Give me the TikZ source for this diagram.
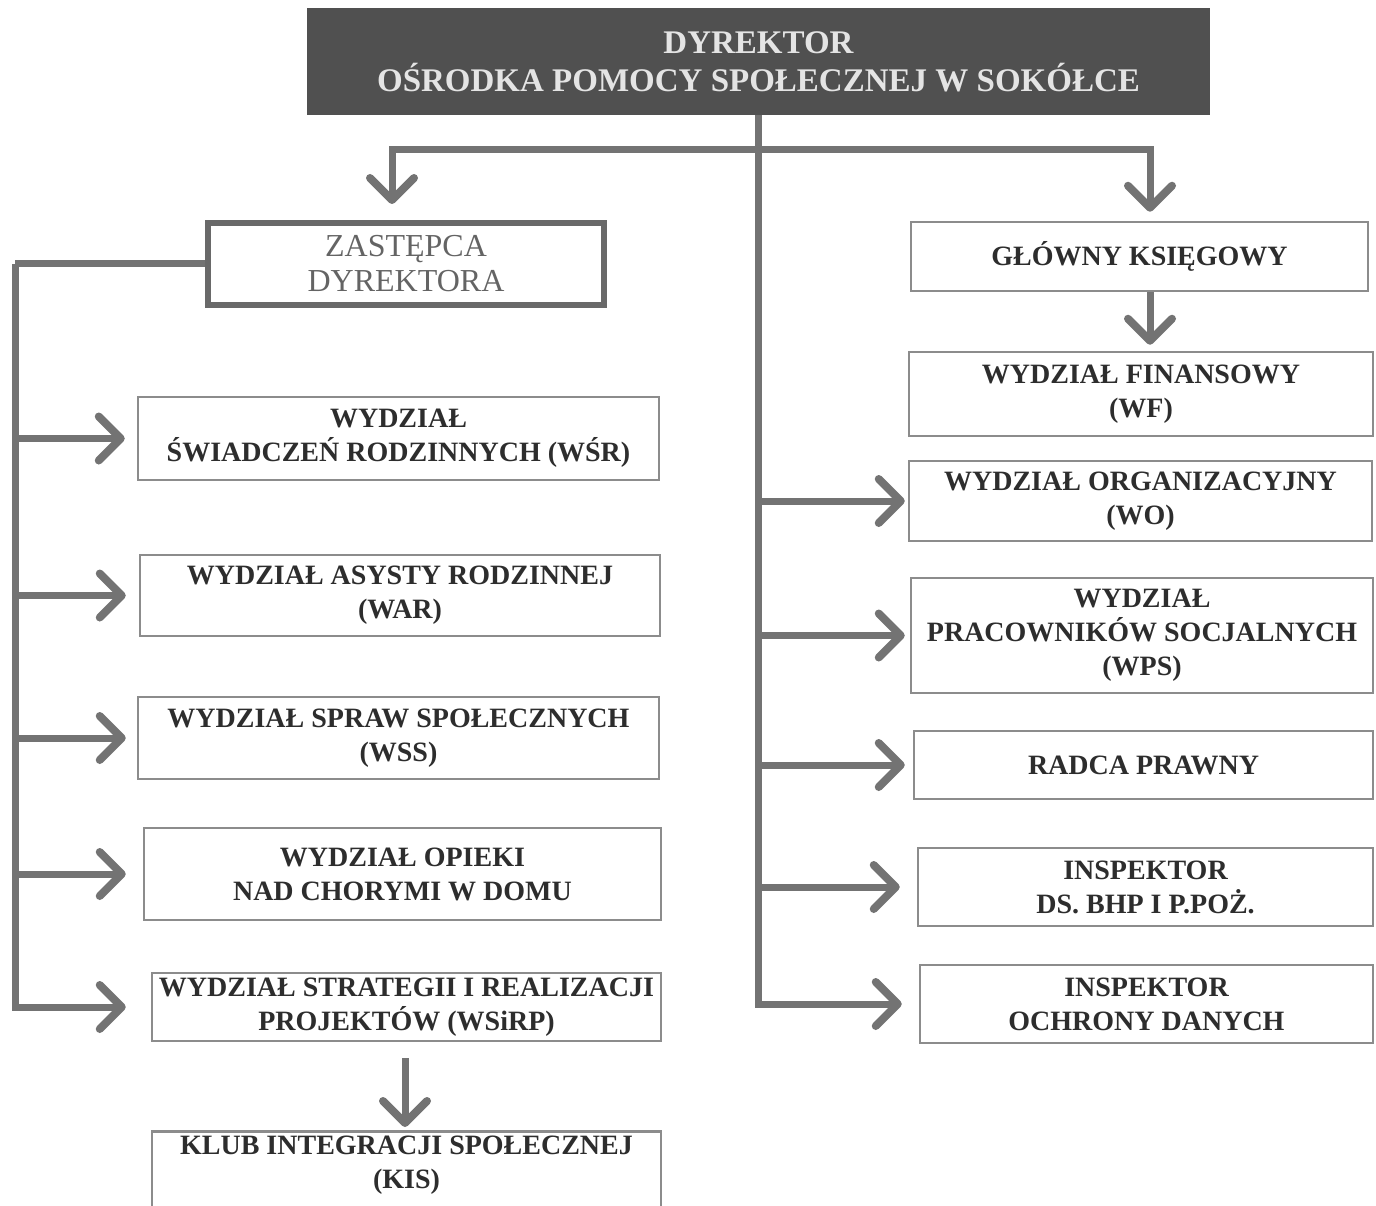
\documentclass[tikz,border=0pt]{standalone}
\usepackage{fontspec}
\setmainfont{Liberation Serif}
\usetikzlibrary{arrows.meta}

\begin{document}
\begin{tikzpicture}[x=1pt,y=1pt,yscale=-1,xscale=1,
    unit/.style={draw={rgb, 255:red, 140; green, 140; blue, 140 }, line width=2.5pt, fill=white,
        align=center, inner sep=2pt, text={rgb, 255:red, 45; green, 45; blue, 45 },
        font=\fontsize{28}{34}\selectfont\bfseries},
    conn/.style={draw={rgb, 255:red, 115; green, 115; blue, 115 }, line width=7pt,
        -{Straight Barb[length=22pt,width=44pt,line width=8pt,round]}},
    trunk/.style={draw={rgb, 255:red, 115; green, 115; blue, 115 }, line width=7pt}]
    \useasboundingbox (0,0) rectangle (1376,1206); %set diagram to the size of the scan

    %Shape: Rectangle [id:dyr]
    \node [fill={rgb, 255:red, 80; green, 80; blue, 80 }, minimum width=903, minimum height=107, align=center, inner sep=0pt, text={rgb, 255:red, 228; green, 228; blue, 228 }, font=\fontsize{33}{38}\selectfont\bfseries] (dyr) at (758.5,61.5) {DYREKTOR\\OŚRODKA POMOCY SPOŁECZNEJ W SOKÓŁCE};
    %Shape: Rectangle [id:zast]
    \node [draw={rgb, 255:red, 105; green, 105; blue, 105 }, line width=6pt, minimum width=396, minimum height=82, align=center, inner sep=0pt, text={rgb, 255:red, 100; green, 100; blue, 100 }, font=\fontsize{32}{35}\selectfont] (zast) at (406,264) {ZASTĘPCA\\DYREKTORA};

    % Left column
    \node [unit, minimum width=521, minimum height=83] (wsr) at (398.5,438.5) {WYDZIAŁ\\ŚWIADCZEŃ RODZINNYCH (WŚR)};
    \node [unit, minimum width=520, minimum height=81] (war) at (400,595.5) {WYDZIAŁ ASYSTY RODZINNEJ\\(WAR)};
    \node [unit, minimum width=521, minimum height=82] (wss) at (398.5,738) {WYDZIAŁ SPRAW SPOŁECZNYCH\\(WSS)};
    \node [unit, minimum width=517, minimum height=92] (wop) at (402.5,874) {WYDZIAŁ OPIEKI\\NAD CHORYMI W DOMU};
    \node [unit, minimum width=509, minimum height=68, inner sep=0pt] (wsirp) at (406.5,1007) {WYDZIAŁ STRATEGII I REALIZACJI\\PROJEKTÓW (WSiRP)};
    \node [unit, minimum width=509, anchor=north, inner ysep=5pt] (kis) at (406.5,1130) {KLUB INTEGRACJI SPOŁECZNEJ\\(KIS)\\\mbox{}\\\mbox{}};

    % Right column
    \node [unit, minimum width=457, minimum height=69] (gk) at (1139.5,256.5) {GŁÓWNY KSIĘGOWY};
    \node [unit, minimum width=464, minimum height=84] (wf) at (1141,394) {WYDZIAŁ FINANSOWY\\(WF)};
    \node [unit, minimum width=463, minimum height=80] (wo) at (1140.5,501) {WYDZIAŁ ORGANIZACYJNY\\(WO)};
    \node [unit, minimum width=462, minimum height=115] (wps) at (1142,635.5) {WYDZIAŁ\\PRACOWNIKÓW SOCJALNYCH\\(WPS)};
    \node [unit, minimum width=459, minimum height=68] (rp) at (1143.5,765) {RADCA PRAWNY};
    \node [unit, minimum width=455, minimum height=78] (bhp) at (1145.5,887) {INSPEKTOR\\DS. BHP I P.POŻ.};
    \node [unit, minimum width=453, minimum height=78] (iod) at (1146.5,1004) {INSPEKTOR\\OCHRONY DANYCH};

    % Connectors
    \coordinate (split) at (758,150);
    \coordinate (ltrunk) at (15,264);
    \draw [conn, shorten >=17] (dyr.south) |- (iod.west);
    \foreach \n/\s in {wo/3, wps/5, rp/8, bhp/17} {
        \draw [conn, shorten >=\s] (dyr.south |- \n.west) -- (\n.west);
    }
    \draw [conn, shorten >=16] (split) -| ([xshift=-14pt]zast.north);
    \draw [conn, shorten >=9] (split) -| ([xshift=10.5pt]gk.north);
    \draw [conn, shorten >=6] ([xshift=10.5pt]gk.south) -- ([xshift=9pt]wf.north);

    \draw [trunk] (zast.west) -- (ltrunk);
    \draw [conn, shorten >=25] (ltrunk) |- (wsirp.west);
    \foreach \n/\s in {wsr/12, war/13, wss/11, wop/17} {
        \draw [conn, shorten >=\s] (ltrunk |- \n.west) -- (\n.west);
    }
    \draw [conn, shorten <=16, shorten >=3] ([xshift=-1.5pt]wsirp.south) -- ([xshift=-1.5pt]kis.north);

\end{tikzpicture}
\end{document}
